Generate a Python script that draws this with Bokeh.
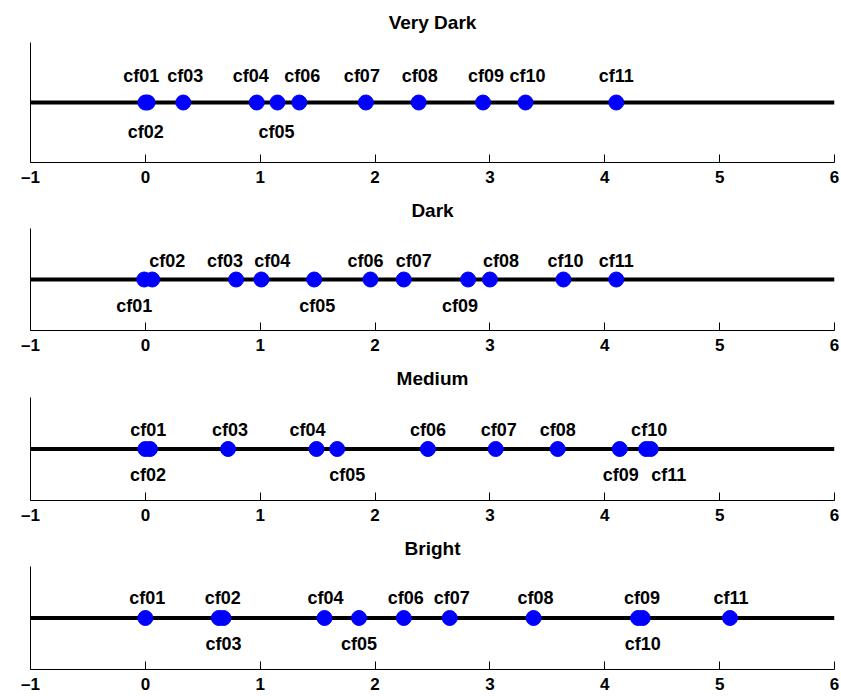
from bokeh.plotting import figure
from bokeh.layouts import column
from bokeh.models import Span, FixedTicker, ColumnDataSource
from bokeh.core.properties import value
from bokeh.embed import file_html
from bokeh.resources import INLINE

# ---------------- data ----------------
names = ["cf01", "cf02", "cf03", "cf04", "cf05", "cf06", "cf07", "cf08", "cf09", "cf10", "cf11"]
titles = ["Very Dark", "Dark", "Medium", "Bright"]

very_dark = [0.00, 0.02, 0.33, 0.97, 1.15, 1.34, 1.92, 2.38, 2.94, 3.31, 4.10]
dark      = [-0.01, 0.06, 0.79, 1.01, 1.47, 1.96, 2.25, 3.00, 2.81, 3.64, 4.10]
medium    = [0.00, 0.04, 0.72, 1.49, 1.67, 2.46, 3.05, 3.59, 4.13, 4.36, 4.40]
bright    = [0.00, 0.64, 0.68, 1.56, 1.86, 2.25, 2.65, 3.38, 4.29, 4.33, 5.09]

# label side: 1 = above the line, -1 = below
side_very_dark = [1, -1, 1, 1, -1, 1, 1, 1, 1, 1, 1]
side_dark      = [-1, 1, 1, 1, -1, 1, 1, 1, -1, 1, 1]
side_medium    = [1, -1, 1, 1, -1, 1, 1, 1, -1, 1, -1]
side_bright    = [1, 1, -1, 1, -1, 1, 1, 1, 1, -1, 1]

xticks = [-1, 0, 1, 2, 3, 4, 5, 6]
xtick_labels = ["\u20131", "0", "1", "2", "3", "4", "5", "6"]

# ---------------- style / layout ----------------
label_nudge_x = [
    [-4, -2, 2, -6, -1, 3, -4, 1, 3, 2, 0],
    [-10, 15, -11, 11, 3, -5, 10, 11, -8, 2, 0],
    [3, -2, 2, -9, 10, 0, 3, 0, 1, 3, 18],
    [2, 4, 0, 1, 0, 2, 2, 2, 4, 0, 1],
]
label_dy = [(-27, 29), (-19, 26), (-19, 26), (-20, 26)]
# (height, border_top, border_bottom, title_standoff)
panel_geom = [(189, 42, 26, 19), (168, 39, 26, 16), (170, 40, 26, 17), (169, 39, 27, 16)]

FONT = "Liberation Sans"
BLUE = "#0000ff"

series = [very_dark, dark, medium, bright]
sides = [side_very_dark, side_dark, side_medium, side_bright]

figs = []
for i in range(4):
    h, bt, bb, ts = panel_geom[i]
    p = figure(width=841, height=h, x_range=(-1, 6), y_range=(-1, 1),
               output_backend="svg", toolbar_location=None,
               min_border_left=30, min_border_right=7,
               min_border_top=bt, min_border_bottom=bb,
               title=titles[i])
    p.title.align = "center"
    p.title.text_font = FONT
    p.title.text_font_style = "bold"
    p.title.text_font_size = "19px"
    p.title.text_color = "black"
    p.title.standoff = ts

    p.outline_line_color = None
    p.xgrid.grid_line_color = None
    p.ygrid.grid_line_color = None
    p.background_fill_color = "white"
    p.border_fill_color = "white"

    xa = p.xaxis[0]
    xa.ticker = FixedTicker(ticks=xticks)
    xa.major_label_overrides = {t: l for t, l in zip(xticks, xtick_labels)}
    xa.major_tick_in = 8
    xa.major_tick_out = 0
    xa.minor_tick_line_color = None
    xa.axis_line_color = "black"
    xa.axis_line_width = 1
    xa.major_tick_line_color = "black"
    xa.major_label_text_font = FONT
    xa.major_label_text_font_style = "bold"
    xa.major_label_text_font_size = "17px"
    xa.major_label_text_color = "black"
    xa.major_label_standoff = 5

    ya = p.yaxis[0]
    ya.ticker = FixedTicker(ticks=[])
    ya.major_tick_line_color = None
    ya.minor_tick_line_color = None
    ya.major_label_text_font_size = "0px"
    ya.axis_line_color = "black"
    ya.axis_line_width = 1

    p.add_layout(Span(location=0, dimension="width", line_color="black",
                      line_width=4, level="underlay"))

    xs = series[i]
    ys = [0] * len(xs)
    p.scatter(xs, ys, size=15, fill_color=BLUE, line_color=BLUE, marker="circle")

    up, down = label_dy[i]
    src = ColumnDataSource(dict(
        x=xs, y=ys, t=names,
        dx=label_nudge_x[i],
        dy=[up if s > 0 else down for s in sides[i]],
    ))
    p.text(x="x", y="y", text="t", x_offset="dx", y_offset="dy", source=src,
           text_align="center", text_baseline="middle",
           text_font=value(FONT), text_font_style="bold",
           text_font_size="18px", text_color="black")
    figs.append(p)

layout = column(*figs, spacing=0)
open("out.html", "w").write(file_html(layout, INLINE))
